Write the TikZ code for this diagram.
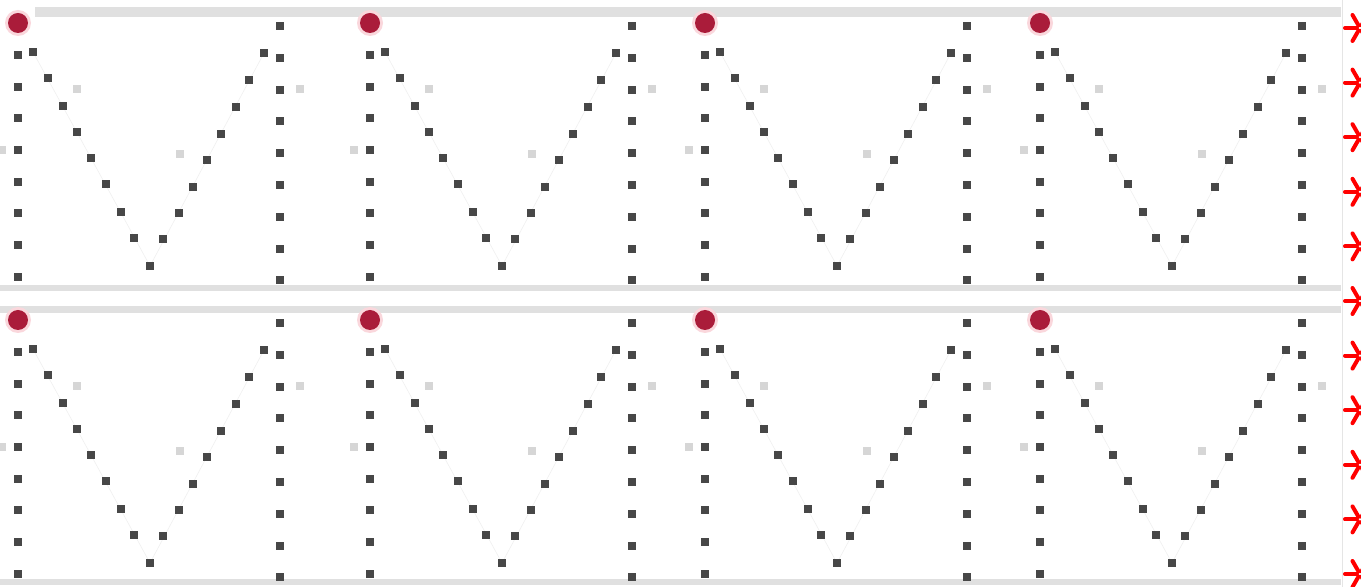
\documentclass[tikz,border=0pt]{standalone}
\begin{document}
\begin{tikzpicture}[x=0.5pt,y=-0.5pt,
  mk/.style={fill=black!72,draw=none},
  faint/.style={fill=black!16,draw=none},
  guide/.style={draw=black!6,line width=0.3pt},
  band/.style={fill=black!12,draw=none},
  dotred/.style={fill={rgb,255:red,170;green,28;blue,58}},
  glow/.style={fill={rgb,255:red,250;green,215;blue,220}},
  star/.style={draw=red,line width=2pt,line cap=round}]
\useasboundingbox (0,0) rectangle (1361,587);
\fill[white] (0,0) rectangle (1361,587);
% grey bands
\fill[band] (35,7) rectangle (1341,17);
\fill[band] (0,285) rectangle (1341,291);
\fill[band] (0,306) rectangle (1341,313);
\fill[band] (0,579) rectangle (1341,585);
\draw[black!10,line width=0.5pt] (1342,0) -- (1342,587);
% panels
\foreach \ox in {18,370,705,1040}{
 \foreach \oy in {0,297}{
  \begin{scope}[shift={(\ox,\oy)}]
   % faint guide lines of the V
   \draw[guide] (15,52) -- (132,266) -- (246,53);
   % red dot
   \fill[glow] (0,23) circle (13);
   \fill[dotred] (0,23) circle (10);
   % left column
   \foreach \k in {0,...,7}{
     \fill[mk] (0,55+31.7*\k) +(-4,-4) rectangle +(4,4);
   }
   % right column
   \foreach \k in {0,...,8}{
     \fill[mk] (262,26+31.8*\k) +(-4,-4) rectangle +(4,4);
   }
   % V shape
   \foreach \x/\y in {15/52,30/78,45/106,59/132,73/158,88/184,103/212,116/238,132/266,
                      145/239,161/213,175/187,189/160,203/134,218/107,231/80,246/53}{
     \fill[mk] (\x,\y) +(-4,-4) rectangle +(4,4);
   }
   % faint dots
   \foreach \x/\y in {59/89,162/154,282/89,-16/150}{
     \fill[faint] (\x,\y) +(-4,-4) rectangle +(4,4);
   }
  \end{scope}
 }
}
% red asterisks at the right edge
\foreach \k in {0,...,10}{
  \foreach \a in {0,60,...,300}{
    \draw[star] (1360,28+54.6*\k) ++(\a:3) -- ++(\a:12);
  }
}
\end{tikzpicture}
\end{document}
